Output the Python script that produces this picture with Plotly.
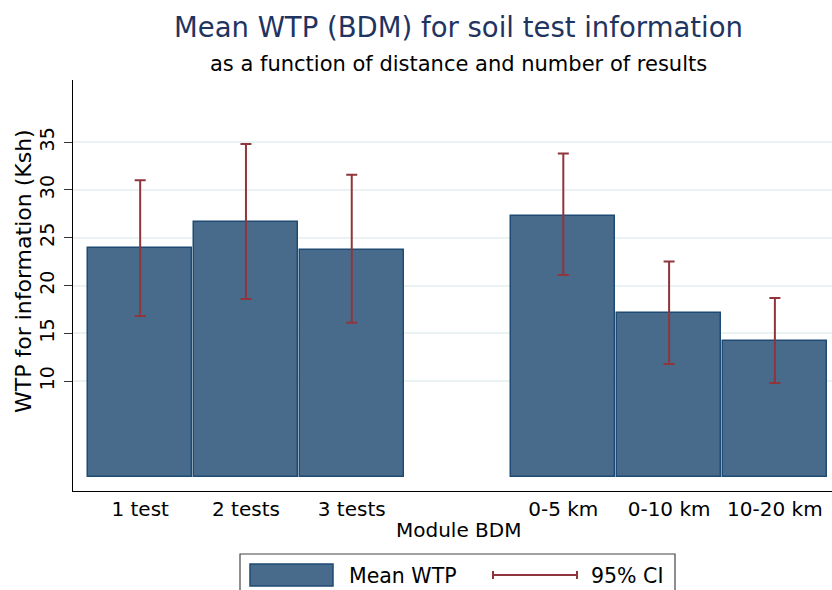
import plotly.graph_objs as go

# data
labels_results = ["1 test", "2 tests", "3 tests"]
labels_distance = ["0-5 km", "0-10 km", "10-20 km"]
mean_results = [23.9, 26.6, 23.7]
mean_distance = [27.3, 17.1, 14.2]
ci_low_results = [16.8, 18.6, 16.1]
ci_high_results = [31.0, 34.8, 31.6]
ci_low_distance = [21.1, 11.8, 9.8]
ci_high_distance = [33.8, 22.5, 18.7]
y_ticks = [10, 15, 20, 25, 30, 35]

labels = labels_results + labels_distance
means = mean_results + mean_distance
ci_low = ci_low_results + ci_low_distance
ci_high = ci_high_results + ci_high_distance
# one empty slot between the two groups
xpos = [i + 1 for i in range(len(labels_results))] + \
       [i + 2 + len(labels_results) for i in range(len(labels_distance))]

W, H = 832, 590
L, R, T, B = 73, 0, 80, 99
PW, PH = W - L - R, H - T - B


def px(x):
    return (x - L) / PW


def py(y):
    return (H - B - y) / PH


colors = {'fill': '#486a8b', 'edge': '#1f4a74', 'ci': '#90353b',
          'title': '#1f3461', 'grid': '#eaf2f3'}
font = "DejaVu Sans, Liberation Sans, Arial, sans-serif"

fig = go.Figure()

fig.add_trace(go.Bar(
    x=xpos, y=means, width=0.985,
    marker=dict(color=colors['fill'], line=dict(color=colors['edge'], width=1.5)),
    name="Mean WTP",
))

fig.add_trace(go.Scatter(
    x=xpos, y=means, mode="markers",
    marker=dict(size=1, opacity=0),
    error_y=dict(type="data", symmetric=False,
                 array=[h - m for h, m in zip(ci_high, means)],
                 arrayminus=[m - lo for m, lo in zip(means, ci_low)],
                 color=colors['ci'], thickness=2, width=5.5),
    name="95% CI",
))

fig.update_xaxes(
    range=[0.365, 7.54], tickvals=xpos, ticktext=labels,
    showline=True, linecolor="black", linewidth=1.2,
    showgrid=False, zeroline=False, ticks="",
    tickfont=dict(family=font, size=20, color="black"),
    fixedrange=True,
)
fig.update_yaxes(
    range=[-1.5, 41.5], tickvals=y_ticks,
    showline=True, linecolor="black", linewidth=1.2,
    showgrid=True, gridcolor=colors['grid'], gridwidth=1.5,
    zeroline=False, ticks="outside", ticklen=8, tickcolor="#333333",
    tickangle=-90, ticklabelstandoff=2,
    tickfont=dict(family=font, size=19, color="black"),
    fixedrange=True,
)

annotations = [
    dict(text="Mean WTP (BDM) for soil test information", x=px(458), y=py(27),
         font=dict(family=font, size=27.5, color=colors['title'])),
    dict(text="as a function of distance and number of results", x=px(458), y=py(64),
         font=dict(family=font, size=21, color="black")),
    dict(text="Module BDM", x=px(458), y=py(530),
         font=dict(family=font, size=20, color="black")),
    dict(text="WTP for information (Ksh)", x=px(23), y=py(271), textangle=-90,
         font=dict(family=font, size=22, color="black")),
    dict(text="Mean WTP", x=px(347), y=py(576), xanchor="left",
         font=dict(family=font, size=20.5, color="black")),
    dict(text="95% CI", x=px(589), y=py(576), xanchor="left",
         font=dict(family=font, size=20.5, color="black")),
]
for a in annotations:
    a.update(xref="paper", yref="paper", showarrow=False)
    a.setdefault("xanchor", "center")
    a.setdefault("yanchor", "middle")

shapes = [
    # legend box
    dict(type="rect", x0=px(240), x1=px(675), y0=py(600), y1=py(554),
         line=dict(color="#444444", width=1.2), fillcolor="white"),
    # bar key
    dict(type="rect", x0=px(250), x1=px(333), y0=py(586), y1=py(564),
         line=dict(color=colors['edge'], width=1.5), fillcolor=colors['fill']),
    # ci key
    dict(type="line", x0=px(493), x1=px(577), y0=py(575), y1=py(575),
         line=dict(color=colors['ci'], width=2)),
    dict(type="line", x0=px(493), x1=px(493), y0=py(571), y1=py(579),
         line=dict(color=colors['ci'], width=2)),
    dict(type="line", x0=px(577), x1=px(577), y0=py(571), y1=py(579),
         line=dict(color=colors['ci'], width=2)),
]
for s in shapes:
    s.update(xref="paper", yref="paper")

fig.update_layout(
    width=W, height=H, autosize=False,
    margin=dict(l=L, r=R, t=T, b=B, pad=0),
    plot_bgcolor="white", paper_bgcolor="white",
    showlegend=False, bargap=0,
    annotations=annotations, shapes=shapes,
)

# page body has a default 8px margin; drop it so the figure fills the window
fig.write_html("out.html", config={"displayModeBar": False},
               post_script="document.body.style.margin='0';")
